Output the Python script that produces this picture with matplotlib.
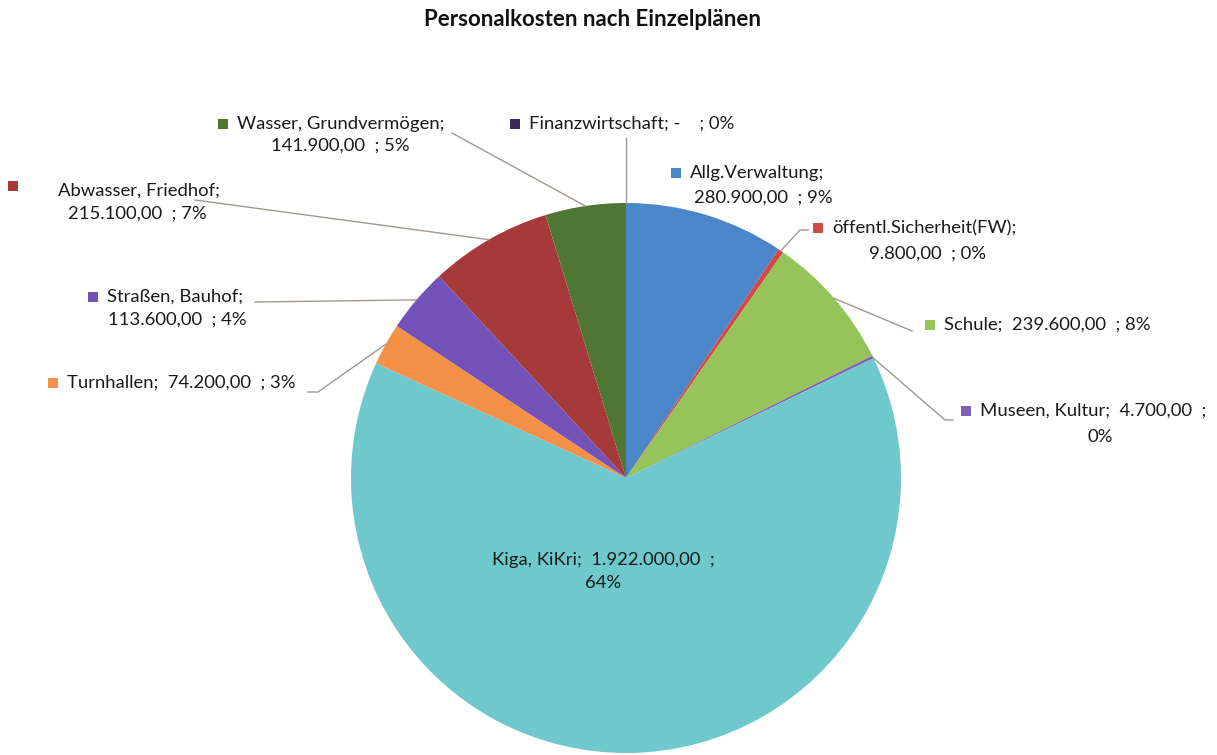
import numpy as np
import matplotlib
matplotlib.use("Agg")
import matplotlib.pyplot as plt

plt.rcParams['font.family'] = ['Lato', 'DejaVu Sans']

# Daten
categories = ["Allg.Verwaltung", "öffentl.Sicherheit(FW)", "Schule", "Museen, Kultur",
              "Kiga, KiKri", "Turnhallen", "Straßen, Bauhof", "Abwasser, Friedhof",
              "Wasser, Grundvermögen", "Finanzwirtschaft"]
values = [280900, 9800, 239600, 4700, 1922000, 74200, 113600, 215100, 141900, 0]
value_labels = ["280.900,00", "9.800,00", "239.600,00", "4.700,00", "1.922.000,00",
                "74.200,00", "113.600,00", "215.100,00", "141.900,00", "-"]
pct_labels = ["9%", "0%", "8%", "0%", "64%", "3%", "4%", "7%", "5%", "0%"]
colors = ["#4a86c8", "#d04848", "#97c45a", "#8060b0", "#6fc8cc",
          "#f39148", "#7453b8", "#a63a3a", "#4f7632", "#3e2a5c"]

W, H = 1217, 755
fig = plt.figure(figsize=(W / 100, H / 100), dpi=100)
ax = fig.add_axes([0, 0, 1, 1])

cx, cy, r = 626, H - 478, 275
wedges, _ = ax.pie(values, colors=colors, startangle=90, counterclock=False,
                   center=(cx, cy), radius=r, frame=True,
                   wedgeprops=dict(linewidth=0))
ax.set_xlim(0, W)
ax.set_ylim(0, H)
ax.set_aspect('equal')
ax.axis('off')


def py(y):
    return H - y


fs = 13.3
txtc = "#1a1a1a"
linec = "#a09890"


def marker(x, y, c):
    ax.add_patch(plt.Rectangle((x - 5, py(y) - 5), 10, 10, color=c, lw=0))


def edge_point(i, which='mid'):
    w = wedges[i]
    t = {'mid': (w.theta1 + w.theta2) / 2, 'start': w.theta1, 'end': w.theta2}[which]
    a = np.deg2rad(t)
    return cx + r * np.cos(a), cy + r * np.sin(a)


def leader(i, pts, which='mid'):
    ex, ey = edge_point(i, which)
    xs = [p[0] for p in pts] + [ex]
    ys = [py(p[1]) for p in pts] + [ey]
    ax.plot(xs, ys, color=linec, lw=1)


def label(i, x, y, line1, line2=None, x2=None, y2=None, ha2='left'):
    marker(x, y, colors[i])
    ax.text(x + 14, py(y), line1, fontsize=fs, color=txtc, va='center')
    if line2:
        ax.text(x2, py(y2), line2, fontsize=fs, color=txtc, va='center', ha=ha2)


# Allg.Verwaltung
label(0, 676, 173, f"{categories[0]};", f"{value_labels[0]}  ; {pct_labels[0]}", 763, 198, 'center')
# öffentl.Sicherheit
label(1, 818, 228, f"{categories[1]};", f"{value_labels[1]}  ; {pct_labels[1]}", 928, 254, 'center')
leader(1, [(808, 230), (800, 230)])
# Schule
label(2, 930, 325, f"{categories[2]};  {value_labels[2]}  ; {pct_labels[2]}")
leader(2, [(912, 331)])
# Museen
label(3, 966, 411, f"{categories[3]};  {value_labels[3]}  ;", pct_labels[3], 1100, 437, 'center')
leader(3, [(953, 420), (945, 420)], 'start')
# Kiga
ax.text(603, py(560), f"{categories[4]};  {value_labels[4]}  ;", fontsize=fs, color=txtc,
        va='center', ha='center')
ax.text(603, py(583), pct_labels[4], fontsize=fs, color=txtc, va='center', ha='center')
# Turnhallen
label(5, 53, 383, f"{categories[5]};  {value_labels[5]}  ; {pct_labels[5]}")
leader(5, [(308, 392), (318, 392)])
# Straßen
label(6, 93, 297, f"{categories[6]};", f"{value_labels[6]}  ; {pct_labels[6]}", 108, 320)
leader(6, [(255, 302)])
# Abwasser
marker(13, 186, colors[7])
ax.text(58, py(191), f"{categories[7]};", fontsize=fs, color=txtc, va='center')
ax.text(68, py(214), f"{value_labels[7]}  ; {pct_labels[7]}", fontsize=fs, color=txtc, va='center')
leader(7, [(195, 200)])
# Wasser
label(8, 223, 124, f"{categories[8]};", f"{value_labels[8]}  ; {pct_labels[8]}", 340, 146, 'center')
leader(8, [(452, 133)])
# Finanzwirtschaft
label(9, 515, 124, f"{categories[9]}; {value_labels[9]}    ; {pct_labels[9]}")
ax.plot([cx, cx], [py(138), cy + r], color=linec, lw=1)

ax.text(592, py(20), "Personalkosten nach Einzelplänen", fontsize=16, fontweight='bold',
        color="#111111", ha='center', va='center')

fig.savefig("out.png", dpi=100, facecolor='white')
